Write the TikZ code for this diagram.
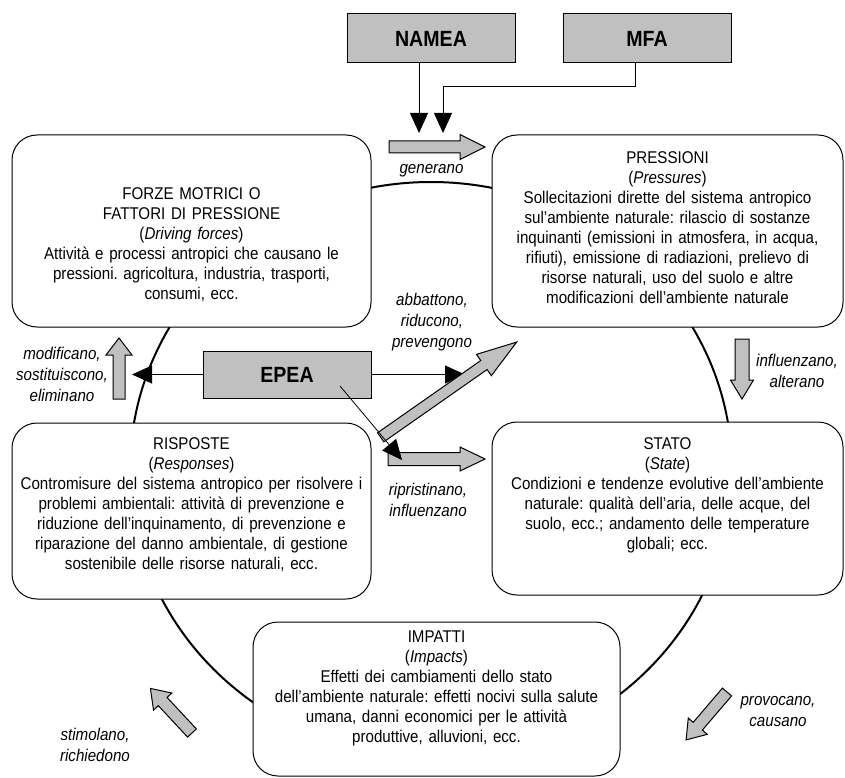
\documentclass[tikz,border=0pt]{standalone}
\usepackage{fontspec}
\setmainfont{Liberation Sans}[FakeStretch=0.89]
\usetikzlibrary{arrows.meta}
\definecolor{boxgray}{HTML}{C0C0C0}
\frenchspacing
\tikzset{
  dbox/.style={draw, line width=1pt, rounded corners=25pt, fill=white, inner sep=0pt},
  gbox/.style={draw, line width=1pt, fill=boxgray, inner sep=0pt, font=\fontsize{22}{26}\selectfont\bfseries},
  body/.style={align=center, anchor=north, inner sep=0pt, text width=362pt, font=\fontsize{17}{20}\selectfont,
    execute at begin node=\strut, execute at end node=\strut},
  lab/.style={align=center, anchor=north, inner sep=0pt, font=\fontsize{17}{21}\selectfont\itshape,
    execute at begin node=\strut, execute at end node=\strut},
  conn/.style={line width=1pt, -{Triangle[length=20pt,width=18pt]}},
  garrowstyle/.style={draw, line width=1pt, fill=boxgray},
  ring/.style={line width=2pt},
}
\newcommand\garrow[7]{%
  \draw[garrowstyle, shift={(#1,#2)}, rotate=#3]
    (0,-#5/2) -- ({#4-#7},-#5/2) -- ({#4-#7},-#6/2) -- (#4,0) --
    ({#4-#7},#6/2) -- ({#4-#7},#5/2) -- (0,#5/2) -- cycle;}
\begin{document}
\begin{tikzpicture}[x=1pt,y=-1pt]
\useasboundingbox (0,0) rectangle (845,778);

% cycle ring
\draw[ring] (431,470) ellipse [x radius=301, y radius=288];

% main boxes
\node[dbox, minimum width=359pt, minimum height=192pt] (forze) at (191.5,231) {};
\node[dbox, minimum width=351pt, minimum height=192pt] (press) at (667.5,231) {};
\node[dbox, minimum width=359pt, minimum height=176pt] (risp) at (191.5,511) {};
\node[dbox, minimum width=351pt, minimum height=173pt] (stato) at (667.5,508.5) {};
\node[dbox, minimum width=367pt, minimum height=154pt] (impatti) at (436.5,699) {};

% box texts
\node[body] (forzeT) at (191.5,185) {FORZE MOTRICI O\\FATTORI DI PRESSIONE\\(\textit{Driving forces})\\Attività e processi antropici che causano le\\pressioni. agricoltura, industria, trasporti,\\consumi, ecc.};
\node[body] (pressT) at (667.5,149) {PRESSIONI\\(\textit{Pressures})\\Sollecitazioni dirette del sistema antropico\\sul’ambiente naturale: rilascio di sostanze\\inquinanti (emissioni in atmosfera, in acqua,\\rifiuti), emissione di radiazioni, prelievo di\\risorse naturali, uso del suolo e altre\\modificazioni dell’ambiente naturale};
\node[body] (rispT) at (191.5,435) {RISPOSTE\\(\textit{Responses})\\\mbox{Contromisure del sistema antropico per risolvere i}\\problemi ambientali: attività di prevenzione e\\riduzione dell’inquinamento, di prevenzione e\\riparazione del danno ambientale, di gestione\\sostenibile delle risorse naturali, ecc.};
\node[body] (statoT) at (667.5,435) {STATO\\(\textit{State})\\Condizioni e tendenze evolutive dell’ambiente\\naturale: qualità dell’aria, delle acque, del\\suolo, ecc.; andamento delle temperature\\globali; ecc.};
\node[body] (impattiT) at (436.5,628) {IMPATTI\\(\textit{Impacts})\\Effetti dei cambiamenti dello stato\\dell’ambiente naturale: effetti nocivi sulla salute\\umana, danni economici per le attività\\produttive, alluvioni, ecc.};

% grey data boxes
\node[gbox, minimum width=168pt, minimum height=49pt] (namea) at (431,38.5) {NAMEA};
\node[gbox, minimum width=168pt, minimum height=49pt] (mfa) at (647,38.5) {MFA};
\node[gbox, minimum width=168pt, minimum height=47pt] (epea) at (287,374.5) {EPEA};

% connectors
\coordinate (n1) at (419,133);
\coordinate (mbend) at (635,87);
\coordinate (m1) at (443,133);
\draw[conn] (namea.south -| n1) -- (n1);
\draw[conn] (mfa.south -| mbend) -- (mbend) -| (m1);
\coordinate (eL) at (132,374.5);
\coordinate (eR) at (465,374.5);
\draw[conn] (epea.west) -- (eL);
\draw[conn] (epea.east) -- (eR);

% grey block arrows
\garrow{389}{147}{0}{96}{12}{25}{25}
\garrow{742}{339}{-90}{60}{14}{23}{19}
\garrow{119}{399}{90}{61}{12}{26}{17}
\garrow{380.7}{437.3}{35}{166}{11}{26}{40}
\garrow{388}{459}{0}{97}{13}{24}{25}
\garrow{192}{733}{133}{61}{12}{25}{18}
\garrow{727}{692}{-130.5}{63}{12}{25}{18}

% diagonal EPEA connector
\coordinate (eD0) at (340,386);
\coordinate (eD) at (402,460);
\draw[line width=0.8pt, -{Triangle[length=20pt,width=18pt]}] (eD0) -- (eD);

% arrow labels
\node[lab] (lgen) at (431.5,159) {generano};
\node[lab] (labb) at (432,293) {abbattono,\\riducono,\\prevengono};
\node[lab] (lrip) at (428,483) {ripristinano,\\influenzano};
\node[lab] (lmod) at (62,347) {modificano,\\sostituiscono,\\eliminano};
\node[lab] (linf) at (797,354) {influenzano,\\alterano};
\node[lab] (lsti) at (95,728) {stimolano,\\richiedono};
\node[lab] (lpro) at (778,696) {provocano,\\causano};
\end{tikzpicture}
\end{document}
